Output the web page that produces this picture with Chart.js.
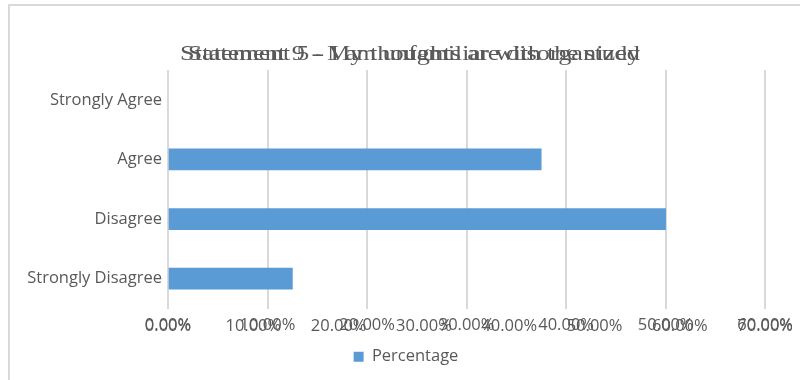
<!DOCTYPE html>
<html>
<head>
<meta charset="utf-8">
<script src="https://cdn.jsdelivr.net/npm/chart.js@4.4.1/dist/chart.umd.min.js"></script>
<style>
html,body{margin:0;padding:0;background:#fff;}
#wrap{position:relative;width:800px;height:380px;}
</style>
</head>
<body>
<div id="wrap"><canvas id="c" width="800" height="380"></canvas></div>
<script>
const categories = ['Strongly Agree', 'Agree', 'Disagree', 'Strongly Disagree'];
const percentages = [0, 37.5, 50, 12.5];
const seriesName = 'Percentage';
const titles = ['Statement 9 - My thoughts are disorganized', 'Statement 5 - I am unfamiliar with the study'];
const secondaryTicks = [0, 10, 20, 30, 40, 50, 60, 70];

const GRAY = '#595959';
const BAR = '#5b9bd5';
const LABEL_FONT = {family: 'Open Sans', size: 16.5};

const frame = {
  id: 'frame',
  beforeDraw(chart) {
    const ctx = chart.ctx;
    ctx.save();
    ctx.strokeStyle = '#d9d9d9';
    ctx.lineWidth = 2;
    ctx.beginPath();
    ctx.moveTo(9, 380);
    ctx.lineTo(9, 5);
    ctx.lineTo(800, 5);
    ctx.stroke();
    ctx.restore();
  },
  afterDraw(chart) {
    const ctx = chart.ctx;
    ctx.save();
    ctx.fillStyle = GRAY;
    ctx.font = '21px "Liberation Serif"';
    ctx.textAlign = 'left';
    ctx.textBaseline = 'alphabetic';
    // two overlapping titles, stretched to the reference span
    const spans = [[180, 640], [188, 640]];
    titles.forEach((t, i) => {
      const w = ctx.measureText(t).width;
      const [a, b] = spans[i];
      ctx.save();
      ctx.translate(a, 60);
      ctx.scale((b - a) / w, 1);
      ctx.fillText(t, 0, 0);
      ctx.restore();
    });
    // secondary overlapping tick labels
    const x2 = chart.scales.x2;
    ctx.font = '16.5px "Open Sans"';
    ctx.textAlign = 'center';
    ctx.textBaseline = 'middle';
    const y = chart.chartArea.bottom + 18;
    secondaryTicks.forEach(v => {
      ctx.fillText(v.toFixed(2) + '%', x2.getPixelForValue(v), y);
    });
    ctx.restore();
  }
};

new Chart(document.getElementById('c'), {
  type: 'bar',
  data: {
    labels: categories,
    datasets: [{
      label: seriesName,
      data: percentages,
      backgroundColor: c => (c.raw === 0 ? 'rgba(0,0,0,0)' : BAR),
      barThickness: 21
    }]
  },
  options: {
    indexAxis: 'y',
    responsive: false,
    animation: false,
    layout: {padding: {top: 70, right: 0, left: 12, bottom: 5}},
    scales: {
      x: {
        min: 0, max: 60,
        ticks: {stepSize: 10, color: GRAY, font: LABEL_FONT, padding: 7,
          callback: v => Number(v).toFixed(2) + '%'},
        grid: {color: '#d9d9d9', lineWidth: 2, drawTicks: false},
        border: {display: false},
        afterFit(s) { s.height = 30; }
      },
      x2: {
        type: 'linear', axis: 'x', position: 'bottom', display: false,
        min: 0, max: 70
      },
      y: {
        ticks: {color: GRAY, font: LABEL_FONT, padding: 6},
        grid: {display: false, drawTicks: false},
        border: {display: false},
        afterFit(s) { s.width = 156; }
      },
      yR: {
        type: 'linear', axis: 'y', position: 'right', display: true,
        ticks: {display: false},
        grid: {display: false, drawTicks: false},
        border: {display: false},
        afterFit(s) { s.width = 32; }
      }
    },
    plugins: {
      legend: {
        position: 'bottom',
        labels: {color: GRAY, font: LABEL_FONT, boxWidth: 10, boxHeight: 10, padding: 10,
          generateLabels: ch => [{text: seriesName, fillStyle: BAR, strokeStyle: BAR, lineWidth: 0, datasetIndex: 0, fontColor: GRAY}]}
      },
      tooltip: {enabled: false}
    }
  },
  plugins: [frame]
});
</script>
</body>
</html>
